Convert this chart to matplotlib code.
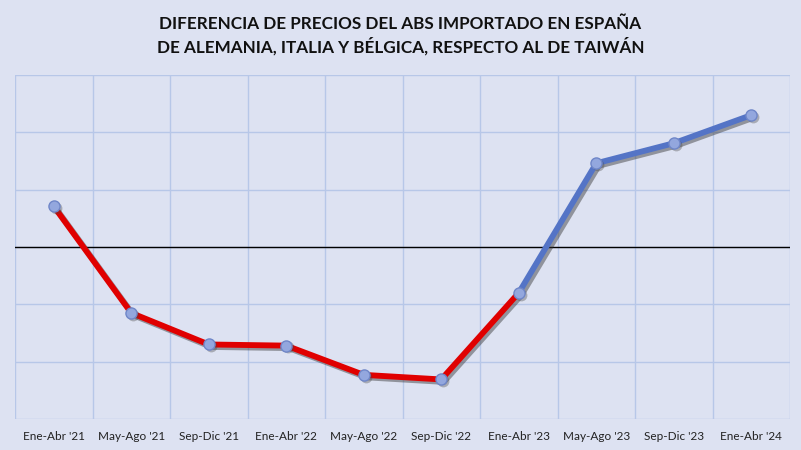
import matplotlib
matplotlib.use("Agg")
import matplotlib.pyplot as plt
import matplotlib.patheffects as pe
import matplotlib.transforms as mtransforms
import numpy as np

# periodos cuatrimestrales
periodos = ["Ene-Abr '21", "May-Ago '21", "Sep-Dic '21", "Ene-Abr '22", "May-Ago '22",
            "Sep-Dic '22", "Ene-Abr '23", "May-Ago '23", "Sep-Dic '23", "Ene-Abr '24"]
# diferencia de precio (unidades relativas, el original no muestra escala)
diferencia = [0.71, -1.15, -1.70, -1.72, -2.23, -2.31, -0.80, 1.46, 1.81, 2.30]
# hasta que punto va en rojo, luego azul
corte_rojo = 6

titulo = "DIFERENCIA DE PRECIOS DEL ABS IMPORTADO EN ESPAÑA\nDE ALEMANIA, ITALIA Y BÉLGICA, RESPECTO AL DE TAIWÁN"

plt.rcParams['font.family'] = ['Lato', 'DejaVu Sans']

fondo = "#dde2f2"
rejilla = "#b7c7e8"

fig = plt.figure(figsize=(8.01, 4.5), dpi=100, facecolor=fondo)
ax = fig.add_axes([15 / 801, 31 / 450, 775 / 801, 344 / 450])
ax.set_facecolor(fondo)

x = np.arange(len(periodos))

# sombra tipo excel
sombra = [pe.SimpleLineShadow(offset=(1.8, -1.8), shadow_color="#333333", alpha=0.45), pe.Normal()]

ax.plot(x[:corte_rojo + 1], diferencia[:corte_rojo + 1], color="#e00000", lw=4.2,
        solid_capstyle="butt", path_effects=sombra, zorder=3)
ax.plot(x[corte_rojo:], diferencia[corte_rojo:], color="#5474c6", lw=4.2,
        solid_capstyle="butt", path_effects=sombra, zorder=3)

# sombra de los marcadores, desplazada un poco
desplazado = mtransforms.offset_copy(ax.transData, fig=fig, x=1.3, y=-1.3, units="points")
ax.plot(x, diferencia, ls="none", marker="o", ms=8.5, mfc="#444444", mec="none",
        alpha=0.35, transform=desplazado, zorder=3.5)
ax.plot(x, diferencia, ls="none", marker="o", ms=8, mfc="#93a7de", mec="#6f86c8", mew=1,
        zorder=4)

ax.axhline(0, color="black", lw=1, zorder=2)

ax.set_xlim(-0.5, len(periodos) - 0.5)
ax.set_ylim(-3, 3)
ax.set_xticks(x)
ax.set_xticklabels(periodos, fontsize=8.5, color="#222222")
ax.set_xticks(np.arange(-0.5, len(periodos), 1), minor=True)
ax.set_yticks(np.arange(-3, 4, 1))
ax.set_yticklabels([])
ax.tick_params(axis="both", which="both", length=0)
ax.tick_params(axis="x", pad=9)
ax.grid(True, which="minor", axis="x", color=rejilla, lw=1)
ax.grid(True, which="major", axis="y", color=rejilla, lw=1)
for s in ax.spines.values():
    s.set_visible(False)

fig.text(0.5, 0.965, titulo, ha="center", va="top", fontsize=12.3, fontweight="bold",
         linespacing=1.35, color="#111111")

fig.savefig("out.png", dpi=100, facecolor=fondo)
